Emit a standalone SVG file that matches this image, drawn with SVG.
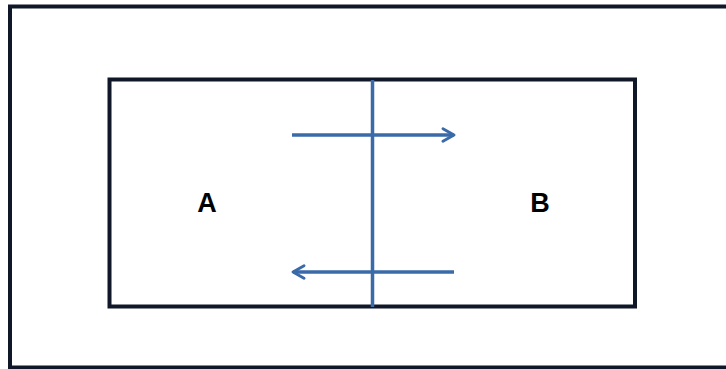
<svg xmlns="http://www.w3.org/2000/svg" width="726" height="369" viewBox="0 0 726 369">
<style>
.frame{fill:none;stroke:#0f1729;stroke-width:4}
.conn{stroke:#3a6aa8;stroke-width:3.5;fill:none}
.lbl{font-family:"Liberation Sans",Arial,sans-serif;font-weight:bold;font-size:27px;fill:#000}
</style>
<defs>
<marker id="ah" viewBox="0 0 10 10" refX="8" refY="5" markerWidth="4.5" markerHeight="4.5" orient="auto" markerUnits="strokeWidth">
<path d="M1,1 L8,5 L1,9" fill="none" stroke="#3a6aa8" stroke-width="1.8" stroke-linecap="round" stroke-linejoin="round"/>
</marker>
</defs>
<rect width="726" height="369" fill="#fff"/>
<g id="outer"><rect class="frame" x="10" y="6.5" width="730" height="361"/></g>
<g id="system"><rect class="frame" x="109.5" y="79.5" width="525.5" height="227"/></g>
<g id="nodeA"><text class="lbl" x="207" y="212" text-anchor="middle">A</text></g>
<g id="nodeB"><text class="lbl" x="540" y="212" text-anchor="middle">B</text></g>
<g id="connectors">
<line class="conn" x1="372.5" y1="80" x2="372.5" y2="307"/>
<line class="conn" x1="292" y1="135" x2="454" y2="135" marker-end="url(#ah)"/>
<line class="conn" x1="454" y1="272" x2="293" y2="272" marker-end="url(#ah)"/>
</g>
</svg>
